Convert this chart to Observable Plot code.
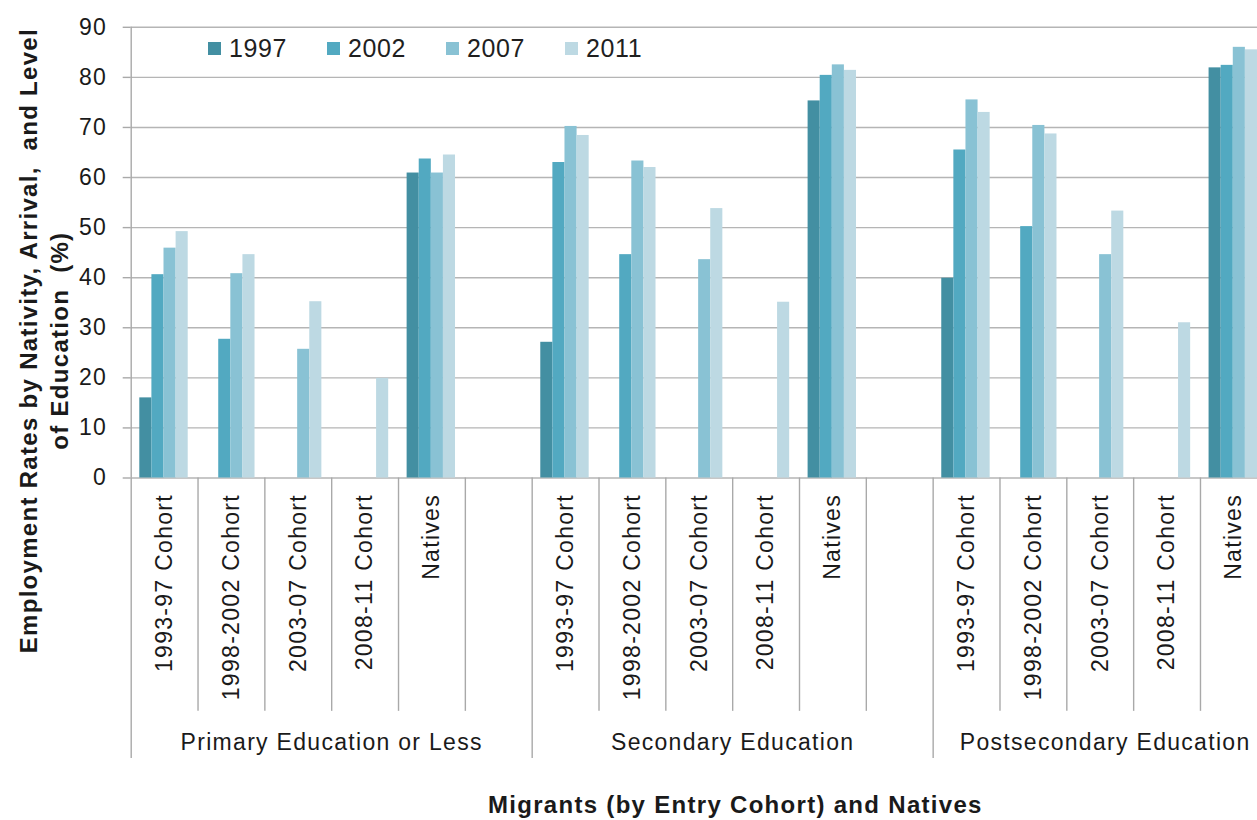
<!DOCTYPE html>
<html><head><meta charset="utf-8">
<script src="https://cdn.jsdelivr.net/npm/d3@7"></script>
<script src="https://cdn.jsdelivr.net/npm/@observablehq/plot@0.6"></script>
<style>
html,body{margin:0;padding:0;background:#fff;overflow:hidden;}
#wrap{position:relative;width:1257px;height:820px;}
#wrap svg text{letter-spacing:1.3px;white-space:pre;}
.legend{position:absolute;left:208px;top:34px;display:flex;font-family:"Liberation Sans",Arial,sans-serif;font-size:25px;letter-spacing:0.6px;color:#1f1f1f;}
.item{width:119px;display:flex;align-items:center;}
.sw{width:12.5px;height:12.5px;margin-right:8.5px;flex:none;}
</style></head><body><div id="wrap"></div>
<script>
// ---- data ----
const groups = ["Primary Education or Less", "Secondary Education", "Postsecondary Education"];
const categories = ["1993-97 Cohort", "1998-2002 Cohort", "2003-07 Cohort", "2008-11 Cohort", "Natives"];
const years = ["1997", "2002", "2007", "2011"];
const colors = ["#438FA2", "#52A9C1", "#89C2D4", "#BDD9E3"];
// values ordered group by group, category by category (null = no bar)
const v1997 = [16.0, null, null, null, 60.9,   27.1, null, null, null, 75.3,   39.9, null, null, null, 81.9];
const v2002 = [40.6, 27.7, null, null, 63.7,   63.0, 44.6, null, null, 80.4,   65.5, 50.2, null, null, 82.4];
const v2007 = [45.9, 40.8, 25.7, null, 60.9,   70.2, 63.3, 43.6, null, 82.5,   75.5, 70.4, 44.6, null, 86.0];
const v2011 = [49.2, 44.6, 35.2, 19.9, 64.5,   68.4, 62.0, 53.8, 35.1, 81.4,   73.0, 68.7, 53.3, 31.0, 85.5];
const yTicks = [0, 10, 20, 30, 40, 50, 60, 70, 80, 90];
const xTitle = "Migrants (by Entry Cohort) and Natives";
const yTitle = "Employment Rates by Nativity, Arrival,  and Level\nof Education  (%)";

// ---- layout ----
const W = 1257, H = 820;
const plotLeft = 130.7, plotTop = 26.8, baseY = 477.5;
const step = 66.83;              // width of one category slot
const barOff = 8.6, barW = 12.1; // bar placement inside a slot
const ink = "#1a1a1a", lineCol = "#a9a9a9";

const slots = groups.flatMap(g => [...categories, ""].map(c => g + "|" + c));
const series = [v1997, v2002, v2007, v2011];
const rows = [];
years.forEach((yr, j) => groups.forEach((g, gi) => categories.forEach((c, ci) => {
  const v = series[j][gi * categories.length + ci];
  if (v != null) rows.push({year: yr, slot: g + "|" + c, value: v});
})));
const labelRows = groups.flatMap(g => categories.map(c => ({slot: g + "|" + c, text: c})));
const boundaries = slots.map((s, i) => ({slot: s, groupStart: i % (categories.length + 1) === 0}));

const chart = Plot.plot({
  width: W, height: H,
  marginLeft: plotLeft, marginRight: 0, marginTop: plotTop, marginBottom: H - baseY,
  style: {fontFamily: '"Liberation Sans", Arial, sans-serif', background: "white", color: ink},
  x: {type: "band", domain: slots, range: [plotLeft, plotLeft + slots.length * step], padding: 0, round: false, axis: null},
  y: {domain: [0, 90]},
  marks: [
    Plot.gridY(yTicks, {stroke: "#b5b5b5", strokeOpacity: 1, strokeWidth: 1.4}),
    ...years.map((yr, j) => Plot.barY(rows.filter(r => r.year === yr), {
      x: "slot", y: "value", fill: colors[j],
      insetLeft: barOff + j * barW, insetRight: step - barOff - (j + 1) * barW
    })),
    Plot.ruleX([slots[0]], {x: d => d, y1: 0, y2: 90, dx: -step / 2, stroke: lineCol, strokeWidth: 1.4}),
    Plot.ruleX(boundaries, {x: "slot", y1: 0, y2: d => d.groupStart ? -56 : -46.6, dx: -step / 2, stroke: lineCol, strokeWidth: 1.4}),
    Plot.axisY(yTicks, {tickSize: 8, tickPadding: 16, fontSize: 23, stroke: lineCol, strokeWidth: 1.4, fill: ink, label: null}),
    Plot.text(labelRows, {x: "slot", text: "text", frameAnchor: "bottom", rotate: -90, textAnchor: "end", lineAnchor: "middle", dy: 16, fontSize: 23, fill: ink}),
    Plot.text(groups.slice(0, 2), {x: g => g + "|" + categories[2], text: d => d, dx: step / 2, frameAnchor: "bottom", lineAnchor: "middle", dy: 264.5, fontSize: 23, fill: ink}),
    Plot.text([groups[2]], {text: d => d, frameAnchor: "bottom-right", textAnchor: "end", lineAnchor: "middle", dx: -7, dy: 264.5, fontSize: 23, fill: ink}),
    Plot.text([yTitle], {text: d => d, frameAnchor: "left", rotate: -90, textAnchor: "middle", lineAnchor: "middle", dx: -88.2, dy: 88, fontSize: 24, fontWeight: "bold", lineHeight: 1.29, fill: ink}),
    Plot.text([xTitle], {text: d => d, frameAnchor: "bottom", lineAnchor: "middle", dx: 41, dy: 327.5, fontSize: 24, fontWeight: "bold", fill: ink})
  ]
});
const wrap = document.getElementById("wrap");
wrap.appendChild(chart);

const legend = document.createElement("div");
legend.className = "legend";
years.forEach((yr, j) => {
  const it = document.createElement("div");
  it.className = "item";
  const sw = document.createElement("span");
  sw.className = "sw";
  sw.style.background = colors[j];
  const tx = document.createElement("span");
  tx.textContent = yr;
  it.appendChild(sw); it.appendChild(tx);
  legend.appendChild(it);
});
wrap.appendChild(legend);
</script></body></html>
